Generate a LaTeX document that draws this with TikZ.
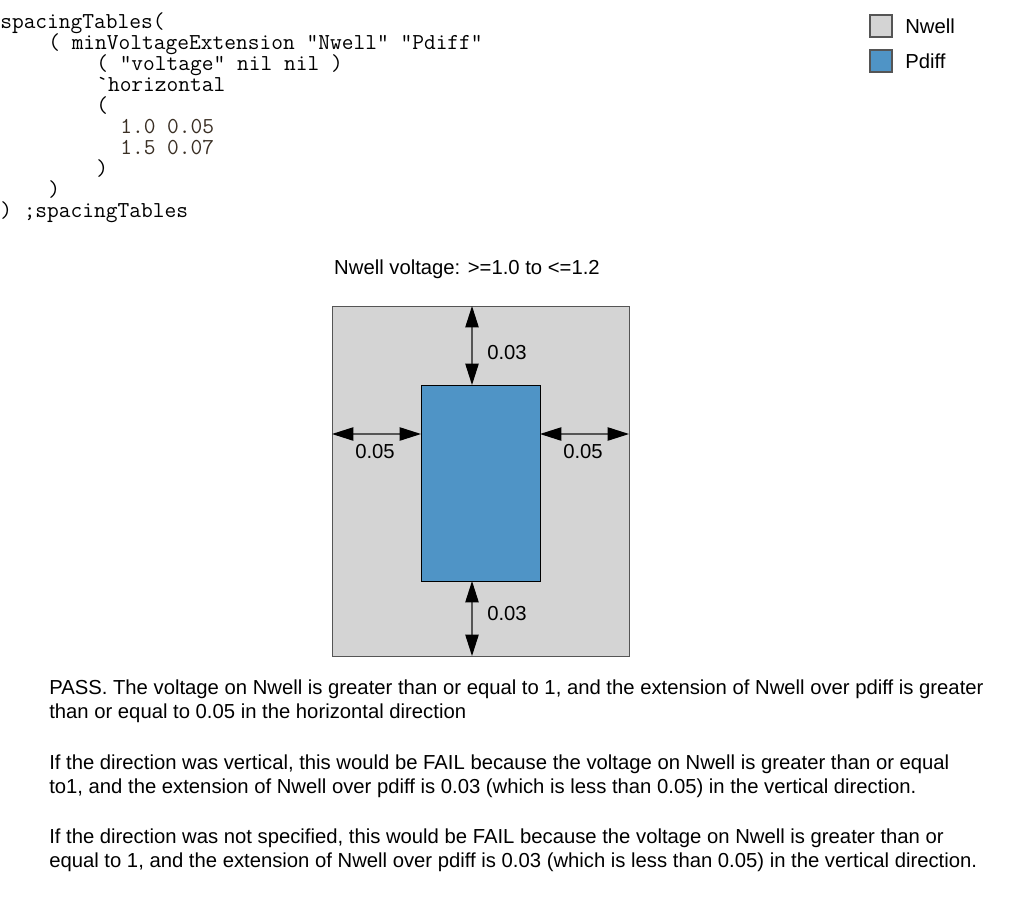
\documentclass[tikz,border=0pt]{standalone}
\usepackage{fontspec}
\setmainfont{Liberation Sans}
\usetikzlibrary{arrows.meta}
\definecolor{nwellgray}{HTML}{D4D4D4}
\definecolor{pdiffblue}{HTML}{4F94C6}
\definecolor{edgegray}{HTML}{555555}
\definecolor{numbrown}{HTML}{3A2F24}
\tikzset{
  code/.style={anchor=base west, inner sep=0pt, font=\ttfamily\fontsize{17.1}{21}\selectfont},
  body/.style={anchor=base west, inner sep=0pt, align=left, font=\fontsize{15.2}{18}\selectfont},
  lbl/.style={anchor=base west, inner sep=0pt, font=\fontsize{15.2}{18}\selectfont},
  dim/.style={draw=edgegray, line width=0.9pt, {Triangle[length=16pt,width=10pt,fill=black,color=black]}-{Triangle[length=16pt,width=10pt,fill=black,color=black]}},
  legbox/.style={draw=edgegray, line width=0.8pt, minimum width=16.5pt, minimum height=16.5pt, inner sep=0pt},
}
\begin{document}
\begin{tikzpicture}[x=0.75pt,y=-0.75pt]
\useasboundingbox (0,0) rectangle (1013,904);
\fill[white] (0,0) rectangle (1013,904);
% code
\node[code] (c1) at (0,28) {spacingTables(};
\node[code] (c2) at (48,49) {( minVoltageExtension "Nwell" "Pdiff"};
\node[code] (c3) at (96,70) {( "voltage" nil nil )};
\node[code] (c4) at (96,91) {`horizontal};
\node[code] (c5) at (96,112) {(};
\node[code, text=numbrown] (c6) at (120,133) {1.0 0.05};
\node[code, text=numbrown] (c7) at (120,154) {1.5 0.07};
\node[code] (c8) at (96,175) {)};
\node[code] (c9) at (48,196) {)};
\node[code] (c10) at (0,217) {) ;spacingTables};
% legend
\node[legbox, fill=nwellgray] (lg1) at (881,26) {};
\node[lbl] (lt1) at (905,33) {Nwell};
\node[legbox, fill=pdiffblue] (lg2) at (881,61) {};
\node[lbl] (lt2) at (905,68) {Pdiff};
% title
\node[lbl, anchor=base] (title) at (467,274) {Nwell voltage: >=1.0 to <=1.2};
% shapes
\node[draw=edgegray, line width=0.8pt, fill=nwellgray, minimum width=222.75pt, minimum height=262.5pt, inner sep=0pt, anchor=north west] (nwell) at (332,306) {};
\node[draw=black, line width=0.8pt, fill=pdiffblue, minimum width=89.25pt, minimum height=147pt, inner sep=0pt, anchor=north west] (pdiff) at (421,385) {};
% dimension arrows
\coordinate (tA) at (472,306);
\coordinate (tB) at (472,385);
\draw[dim] (tA) -- (tB);
\coordinate (lA) at (332,434);
\coordinate (lB) at (421,434);
\draw[dim] (lA) -- (lB);
\coordinate (rA) at (540,434);
\coordinate (rB) at (629,434);
\draw[dim] (rA) -- (rB);
\coordinate (bA) at (472,581);
\coordinate (bB) at (472,656);
\draw[dim] (bA) -- (bB);
\node[lbl] (d1) at (487,359) {0.03};
\node[lbl] (d2) at (355,458) {0.05};
\node[lbl] (d3) at (563,458) {0.05};
\node[lbl] (d4) at (487,620) {0.03};
% paragraphs (base anchor = last line baseline)
\node[body] (p1) at (49,718) {PASS. The voltage on Nwell is greater than or equal to 1, and the extension of Nwell over pdiff is greater\\than or equal to 0.05 in the horizontal direction};
\node[body] (p2) at (49,793) {If the direction was vertical, this would be FAIL because the voltage on Nwell is greater than or equal\\to1, and the extension of Nwell over pdiff is 0.03 (which is less than 0.05) in the vertical direction.};
\node[body] (p3) at (49,867) {If the direction was not specified, this would be FAIL because the voltage on Nwell is greater than or\\equal to 1, and the extension of Nwell over pdiff is 0.03 (which is less than 0.05) in the vertical direction.};
\end{tikzpicture}
\end{document}
